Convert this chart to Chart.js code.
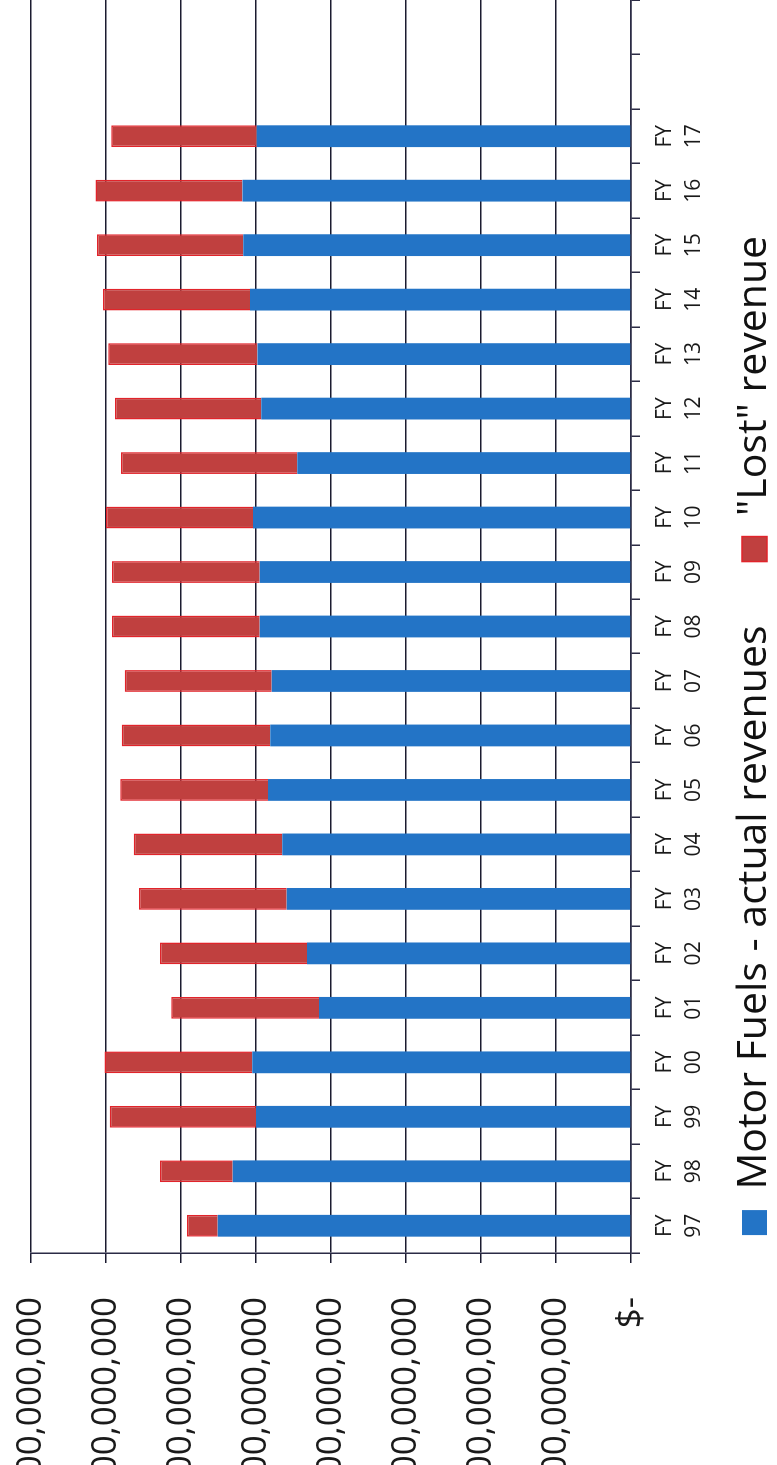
<!DOCTYPE html>
<html>
<head>
<meta charset="utf-8">
<script src="https://cdn.jsdelivr.net/npm/chart.js@4"></script>
<style>
  html, body { margin: 0; padding: 0; background: #fff; overflow: hidden; width: 777px; height: 1465px; }
  /* chart is laid out landscape, then turned a quarter counter-clockwise */
  #wrap { position: absolute; left: 0; top: 0; width: 1525px; height: 840px;
          transform-origin: 0 0; transform: translateY(1525px) rotate(-90deg); }
</style>
</head>
<body>
<div id="wrap"><canvas id="revChart" width="1525" height="840"></canvas></div>
<script>
// fiscal years (two empty slots at the end of the axis)
const fiscalYears = ['97', '98', '99', '00', '01', '02', '03', '04', '05', '06', '07',
                     '08', '09', '10', '11', '12', '13', '14', '15', '16', '17', '', ''];

// millions of dollars
const actualRevenue = [551, 531, 500, 505, 416, 432, 459, 465, 484, 481, 479,
                       495, 495, 504, 445, 493, 498, 508, 517, 518, 499, null, null];
const lostRevenue   = [41, 97, 195, 197, 197, 196, 197, 198, 197, 198, 196,
                       197, 197, 196, 235, 195, 199, 196, 195, 196, 194, null, null];

const tickStep = 100000000;
const tickMax = 800000000;

const toDollars = arr => arr.map(v => v === null ? null : v * 1000000);
const labels = fiscalYears.map(y => y ? ['FY', y] : '');

// the axis needs room for two-line labels, but the legend should sit tight under them
const legendNudge = {
    id: 'legendNudge',
    afterLayout(chart) {
        chart.legend.top -= 36;
        chart.legend.bottom -= 36;
    }
};

Chart.defaults.font.family = "'Open Sans', sans-serif";
Chart.defaults.color = '#1a1a1a';

const ctx = document.getElementById('revChart').getContext('2d');
new Chart(ctx, {
    type: 'bar',
    data: {
        labels: labels,
        datasets: [{
            label: 'Motor Fuels - actual revenues',
            data: toDollars(actualRevenue),
            backgroundColor: '#2374c6',
            borderColor: '#2374c6',
            borderWidth: 0
        }, {
            label: '"Lost" revenue',
            data: toDollars(lostRevenue),
            backgroundColor: '#c0403f',
            borderColor: '#e1242b',
            borderWidth: 1.5
        }]
    },
    plugins: [legendNudge],
    options: {
        responsive: false,
        devicePixelRatio: 1,
        animation: false,
        layout: {
            autoPadding: false,
            padding: { left: 54, top: 31, right: 0, bottom: 19 }
        },
        datasets: {
            bar: { categoryPercentage: 1, barPercentage: 0.4 }
        },
        scales: {
            x: {
                stacked: true,
                grid: {
                    drawOnChartArea: false,
                    drawTicks: true,
                    tickLength: 9,
                    color: '#2b2b45',
                    lineWidth: 1.5
                },
                border: { color: '#2b2b45', width: 1.5 },
                ticks: {
                    autoSkip: false,
                    maxRotation: 0,
                    padding: 10,
                    font: { size: 21, lineHeight: 1.4 }
                },
                afterFit: scale => { scale.height = 75; }
            },
            y: {
                stacked: true,
                min: 0,
                max: tickMax,
                grid: {
                    color: '#1b1b30',
                    lineWidth: 1.5,
                    // long tick slot keeps the labels clear of the axis; only the 10px next to it is inked
                    tickLength: 34,
                    tickBorderDash: [0, 24, 10, 100]
                },
                border: { color: '#2b2b45', width: 1.5 },
                ticks: {
                    stepSize: tickStep,
                    padding: 10,
                    font: { size: 35 },
                    callback: v => v === 0 ? '$-' : '$' + v.toLocaleString('en-US')
                },
                afterFit: scale => { scale.width = 218; }
            }
        },
        plugins: {
            legend: {
                position: 'bottom',
                labels: {
                    boxWidth: 25,
                    boxHeight: 25,
                    padding: 64,
                    color: '#111',
                    font: { size: 41 }
                }
            },
            tooltip: { enabled: false }
        }
    }
});
</script>
</body>
</html>
